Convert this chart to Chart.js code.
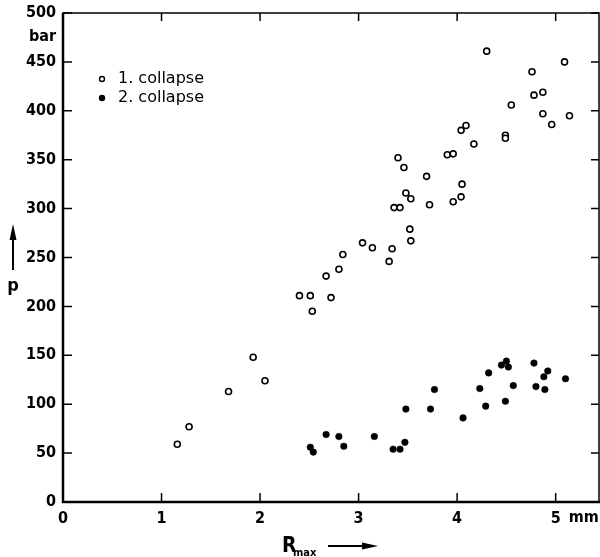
<!DOCTYPE html>
<html>
<head>
<meta charset="utf-8">
<script src="https://cdn.jsdelivr.net/npm/chart.js@4/dist/chart.umd.min.js"></script>
<style>
  html, body { margin: 0; padding: 0; background: #fff; }
  #wrap { width: 600px; height: 557px; position: relative; }
</style>
</head>
<body>
<div id="wrap"><canvas id="collapseChart"></canvas></div>
<script>
// R_max [mm] / p [bar]
const firstR = [1.16, 1.28, 1.68, 1.93, 2.05, 2.40, 2.51, 2.53, 2.72, 2.67, 2.80, 2.84,
  3.04, 3.14, 3.31, 3.34, 3.36, 3.42, 3.52, 3.53, 3.48, 3.53, 3.40, 3.46, 3.69, 3.72,
  3.90, 3.96, 3.96, 4.04, 4.05, 4.04, 4.09, 4.17, 4.30, 4.49, 4.49, 4.55, 4.76, 4.78,
  4.87, 4.87, 4.96, 5.09, 5.14];
const firstP = [59, 77, 113, 148, 124, 211, 211, 195, 209, 231, 238, 253,
  265, 260, 246, 259, 301, 301, 279, 267, 316, 310, 352, 342, 333, 304,
  355, 356, 307, 312, 325, 380, 385, 366, 461, 375, 372, 406, 440, 416,
  419, 397, 386, 450, 395];

const secondR = [2.51, 2.54, 2.67, 2.80, 2.85, 3.16, 3.35, 3.42, 3.47, 3.48, 3.73, 3.77,
  4.06, 4.23, 4.29, 4.32, 4.45, 4.50, 4.52, 4.49, 4.57, 4.78, 4.80, 4.88, 4.92, 4.89, 5.10];
const secondP = [56, 51, 69, 67, 57, 67, 54, 54, 61, 95, 95, 115,
  86, 116, 98, 132, 140, 144, 138, 103, 119, 142, 118, 128, 134, 115, 126];

const xTicks = [0, 1, 2, 3, 4, 5];
const yTicks = [0, 50, 100, 150, 200, 250, 300, 350, 400, 450, 500];

const toPoints = (xs, ys) => xs.map((x, i) => ({x: x, y: ys[i]}));
const narrow = '"Liberation Sans Narrow", "DejaVu Sans Condensed", sans-serif';
const tickFont = {family: narrow, size: 16, weight: 'bold'};

// frame, inward ticks, legend and axis texts
const paperPlugin = {
  id: 'paper',
  afterDraw(chart) {
    const c = chart.ctx, a = chart.chartArea;
    const xs = chart.scales.x, ys = chart.scales.y;
    c.save();
    c.strokeStyle = '#000';
    c.lineWidth = 1.5;
    c.strokeRect(a.left, a.top, a.right - a.left - 1, a.bottom - a.top);
    c.lineWidth = 2.5;
    c.beginPath();
    c.moveTo(a.left, a.top); c.lineTo(a.left, a.bottom); c.lineTo(a.right, a.bottom);
    c.stroke();

    c.lineWidth = 1.5;
    c.beginPath();
    xTicks.forEach(v => {
      const px = xs.getPixelForValue(v);
      c.moveTo(px, a.bottom); c.lineTo(px, a.bottom - 9);
      c.moveTo(px, a.top); c.lineTo(px, a.top + 8);
    });
    yTicks.forEach(v => {
      const py = ys.getPixelForValue(v);
      c.moveTo(a.left, py); c.lineTo(a.left + 9, py);
      c.moveTo(a.right - 1, py); c.lineTo(a.right - 9, py);
    });
    c.stroke();

    c.fillStyle = '#000';
    c.font = 'bold 16px ' + narrow;
    c.textBaseline = 'middle';
    c.textAlign = 'right';
    c.fillText('bar', a.left - 7, ys.getPixelForValue(476));
    c.textAlign = 'left';
    c.fillText('mm', xs.getPixelForValue(5) + 13, a.bottom + 16);

    // p with arrow
    c.font = 'bold 18px ' + narrow;
    c.textAlign = 'center';
    c.fillText('p', 13, 286);
    c.lineWidth = 2;
    c.beginPath(); c.moveTo(13, 270); c.lineTo(13, 232); c.stroke();
    c.beginPath(); c.moveTo(13, 224); c.lineTo(9.5, 240); c.lineTo(16.5, 240); c.closePath(); c.fill();

    // R_max with arrow
    c.textAlign = 'left';
    c.textBaseline = 'alphabetic';
    c.font = 'bold 21px ' + narrow;
    c.fillText('R', 282, 552);
    c.font = 'bold 11px ' + narrow;
    c.fillText('max', 293, 556);
    c.lineWidth = 2;
    c.beginPath(); c.moveTo(328, 546); c.lineTo(366, 546); c.stroke();
    c.beginPath(); c.moveTo(378, 546); c.lineTo(362, 542.5); c.lineTo(362, 549.5); c.closePath(); c.fill();

    // legend
    c.font = '16px "DejaVu Sans"';
    c.textBaseline = 'middle';
    chart.data.datasets.forEach((ds, i) => {
      const y = 79 + i * 19;
      c.beginPath();
      c.arc(102, y, 2.5, 0, Math.PI * 2);
      c.fillStyle = ds.backgroundColor;
      c.fill();
      c.lineWidth = 1.4;
      c.stroke();
      c.fillStyle = '#000';
      c.fillText(ds.label, 118, y);
    });
    c.restore();
  }
};

new Chart(document.getElementById('collapseChart'), {
  type: 'scatter',
  data: {
    datasets: [{
      label: '1. collapse',
      data: toPoints(firstR, firstP),
      pointRadius: 3,
      borderWidth: 1.6,
      borderColor: '#000',
      backgroundColor: '#fff'
    }, {
      label: '2. collapse',
      data: toPoints(secondR, secondP),
      pointRadius: 3.3,
      borderWidth: 0.5,
      borderColor: '#000',
      backgroundColor: '#000'
    }]
  },
  options: {
    responsive: true,
    maintainAspectRatio: false,
    animation: false,
    layout: {autoPadding: false, padding: {top: 13, right: 0, left: 0, bottom: 0}},
    plugins: {
      legend: {display: false},
      tooltip: {enabled: false}
    },
    scales: {
      x: {
        type: 'linear',
        min: 0,
        max: 5.45,
        afterBuildTicks: s => { s.ticks = xTicks.map(v => ({value: v})); },
        afterFit: s => { s.height = 55; s.paddingLeft = 0; s.paddingRight = 0; },
        grid: {display: false, drawTicks: false},
        border: {display: false},
        ticks: {color: '#000', font: tickFont, padding: 7, maxRotation: 0}
      },
      y: {
        type: 'linear',
        min: 0,
        max: 500,
        afterBuildTicks: s => { s.ticks = yTicks.map(v => ({value: v})); },
        afterFit: s => { s.width = 63; s.paddingTop = 0; s.paddingBottom = 0; },
        grid: {display: false, drawTicks: false},
        border: {display: false},
        ticks: {color: '#000', font: tickFont, padding: 7}
      }
    }
  },
  plugins: [paperPlugin]
});
</script>
</body>
</html>
